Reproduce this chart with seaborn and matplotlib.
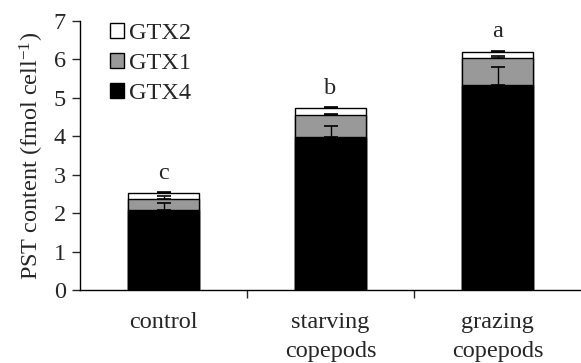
import numpy as np
import pandas as pd
import matplotlib
matplotlib.use("Agg")
import matplotlib.pyplot as plt
import seaborn as sns
from matplotlib.patches import Patch

# data
groups = ["control", "starving\ncopepods", "grazing\ncopepods"]
gtx4 = [2.08, 3.98, 5.34]
gtx1 = [0.30, 0.57, 0.69]
gtx2 = [0.15, 0.20, 0.16]
err_gtx4 = [0.19, 0.28, 0.46]
err_gtx1 = [0.06, 0.02, 0.07]
err_gtx2 = [0.02, 0.01, 0.04]
letters = ["c", "b", "a"]

sns.set_style("ticks")
plt.rcParams["font.family"] = ["Liberation Serif", "DejaVu Serif"]
plt.rcParams["mathtext.fontset"] = "custom"
plt.rcParams["mathtext.rm"] = "Liberation Serif"
plt.rcParams["mathtext.it"] = "Liberation Serif:italic"

df = pd.DataFrame({"group": groups, "GTX4": gtx4, "GTX1": gtx1, "GTX2": gtx2})
df["top4"] = df["GTX4"]
df["top1"] = df["GTX4"] + df["GTX1"]
df["top2"] = df["top1"] + df["GTX2"]

fig = plt.figure(figsize=(5.81, 3.63), dpi=100)
ax = fig.add_axes([0.1377, 0.201, 0.8623, 0.741])

fs = 17.5
w = 0.425
# stacked bars: draw totals first, then overlay lower parts
sns.barplot(data=df, x="group", y="top2", color="white", edgecolor="black",
            linewidth=1.0, width=w, ax=ax, saturation=1)
sns.barplot(data=df, x="group", y="top1", color="#999999", edgecolor="black",
            linewidth=1.0, width=w, ax=ax, saturation=1)
sns.barplot(data=df, x="group", y="top4", color="black", edgecolor="black",
            linewidth=1.0, width=w, ax=ax, saturation=1)

xs = np.arange(len(groups))
for tops, errs in [(df["top4"], err_gtx4), (df["top1"], err_gtx1), (df["top2"], err_gtx2)]:
    ax.errorbar(xs, tops, yerr=[np.zeros(len(errs)), errs], fmt="none",
                ecolor="black", elinewidth=1.0, capsize=4.7, capthick=1.2)

for x, t, e, l in zip(xs, df["top2"], err_gtx2, letters):
    ax.text(x, t + e + 0.22, l, ha="center", va="bottom", fontsize=fs)

ax.set_xlim(-0.5, 2.5)
ax.set_ylim(0, 7)
ax.set_yticks(range(0, 8))
ax.set_xticks(xs)
ax.set_xticklabels(groups, fontsize=fs, linespacing=1.5)
ax.set_xticks([0.5, 1.5], minor=True)
ax.tick_params(axis="x", which="major", length=0, pad=16)
ax.tick_params(axis="x", which="minor", length=6, width=1, direction="out")
ax.tick_params(axis="y", length=6, width=1, direction="out", labelsize=fs, pad=4)
ax.set_xlabel("")
ax.set_ylabel(r"PST content (fmol cell$^{-1}$)", fontsize=fs, labelpad=6)
sns.despine(ax=ax)
for s in ["left", "bottom"]:
    ax.spines[s].set_linewidth(1.0)
    ax.spines[s].set_color("black")

handles = [Patch(facecolor="white", edgecolor="black", label="GTX2"),
           Patch(facecolor="#999999", edgecolor="black", label="GTX1"),
           Patch(facecolor="black", edgecolor="black", label="GTX4")]
ax.legend(handles=handles, loc="upper left", bbox_to_anchor=(0.04, 1.03),
          frameon=False, fontsize=fs, handlelength=0.6, handleheight=0.6,
          handletextpad=0.2, labelspacing=0.36, borderaxespad=0)

fig.savefig("out.png", dpi=100)
